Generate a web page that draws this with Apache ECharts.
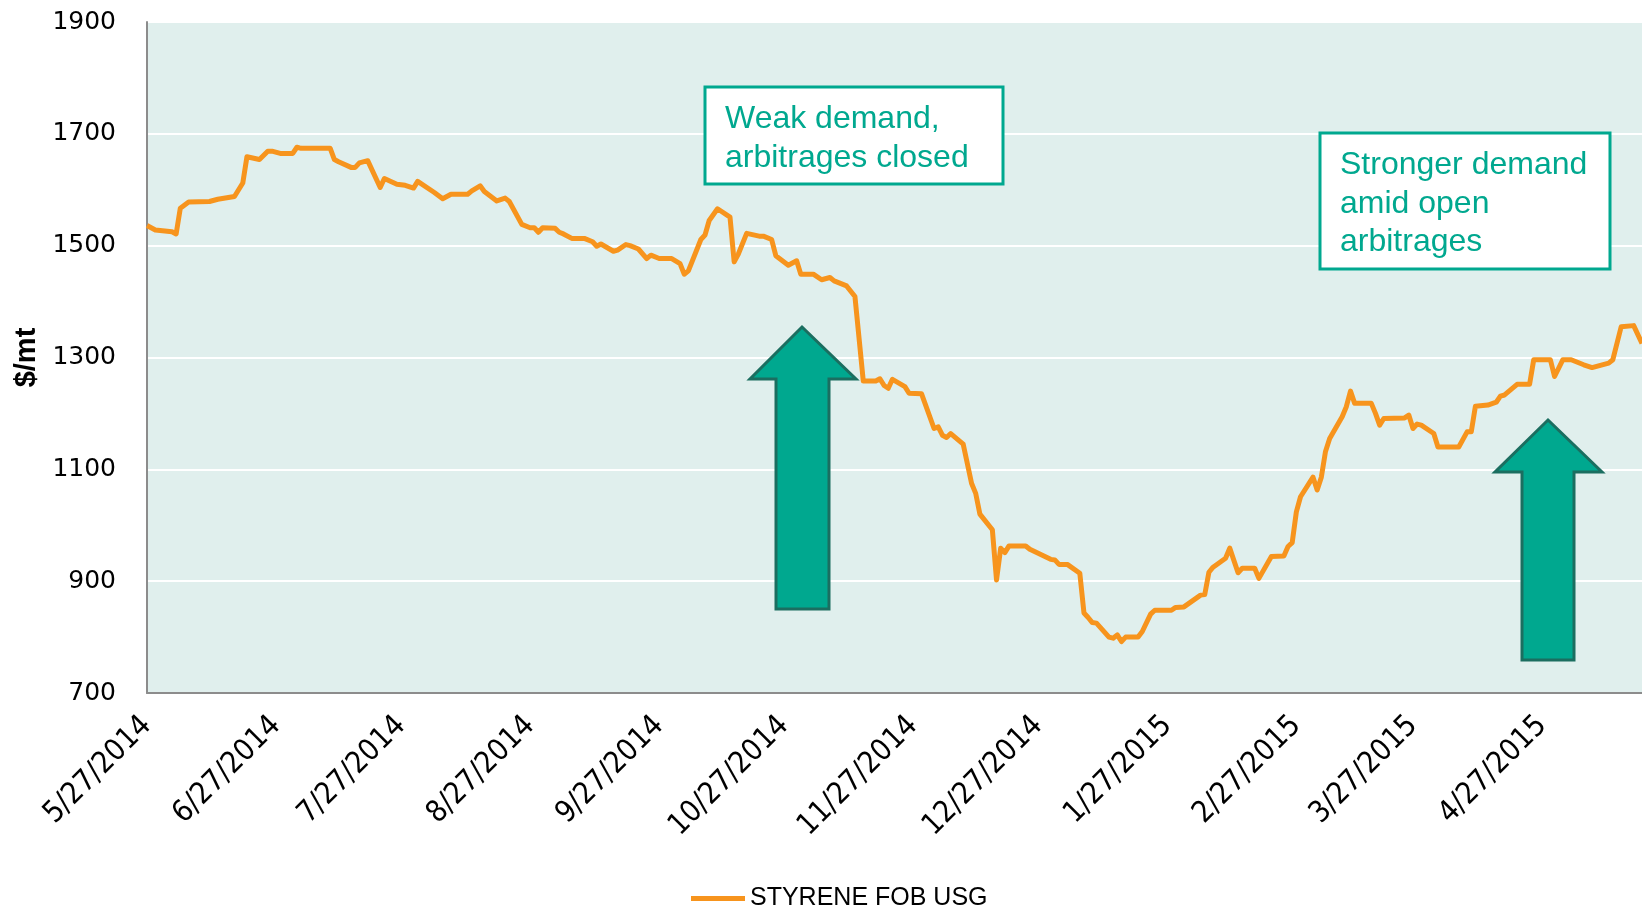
<!DOCTYPE html>
<html>
<head>
<meta charset="utf-8">
<script src="https://cdn.jsdelivr.net/npm/echarts@6/dist/echarts.min.js"></script>
<style>
  html, body { margin: 0; padding: 0; background: #fff; }
  #chart { width: 1642px; height: 913px; }
</style>
</head>
<body>
<div id="chart"></div>
<script>
// ========================================
// 数据: STYRENE FOB USG ($/mt)
// ========================================
const seriesName = 'STYRENE FOB USG';

const dates = [
  '2014-05-27', '2014-05-29', '2014-06-02', '2014-06-03', '2014-06-04', '2014-06-06', '2014-06-11', '2014-06-13',
  '2014-06-17', '2014-06-19', '2014-06-20', '2014-06-23', '2014-06-25', '2014-06-26', '2014-06-28', '2014-07-01',
  '2014-07-02', '2014-07-03', '2014-07-10', '2014-07-11', '2014-07-12', '2014-07-15', '2014-07-16', '2014-07-17',
  '2014-07-19', '2014-07-22', '2014-07-23', '2014-07-26', '2014-07-28', '2014-07-30', '2014-07-31', '2014-08-04',
  '2014-08-06', '2014-08-08', '2014-08-12', '2014-08-13', '2014-08-15', '2014-08-16', '2014-08-19', '2014-08-21',
  '2014-08-22', '2014-08-25', '2014-08-27', '2014-08-28', '2014-08-29', '2014-08-30', '2014-09-02', '2014-09-03',
  '2014-09-04', '2014-09-06', '2014-09-09', '2014-09-11', '2014-09-12', '2014-09-13', '2014-09-16', '2014-09-17',
  '2014-09-19', '2014-09-20', '2014-09-22', '2014-09-24', '2014-09-25', '2014-09-27', '2014-09-30', '2014-10-02',
  '2014-10-03', '2014-10-04', '2014-10-07', '2014-10-08', '2014-10-09', '2014-10-11', '2014-10-14', '2014-10-15',
  '2014-10-16', '2014-10-18', '2014-10-21', '2014-10-22', '2014-10-24', '2014-10-25', '2014-10-28', '2014-10-30',
  '2014-10-31', '2014-11-03', '2014-11-05', '2014-11-07', '2014-11-08', '2014-11-11', '2014-11-13', '2014-11-15',
  '2014-11-18', '2014-11-19', '2014-11-20', '2014-11-21', '2014-11-22', '2014-11-25', '2014-11-26', '2014-11-29',
  '2014-12-02', '2014-12-03', '2014-12-04', '2014-12-05', '2014-12-06', '2014-12-09', '2014-12-11', '2014-12-12',
  '2014-12-13', '2014-12-16', '2014-12-17', '2014-12-18', '2014-12-19', '2014-12-20', '2014-12-24', '2014-12-25',
  '2014-12-30', '2014-12-31', '2015-01-01', '2015-01-03', '2015-01-06', '2015-01-07', '2015-01-08', '2015-01-09',
  '2015-01-10', '2015-01-13', '2015-01-14', '2015-01-15', '2015-01-16', '2015-01-17', '2015-01-20', '2015-01-21',
  '2015-01-23', '2015-01-24', '2015-01-28', '2015-01-29', '2015-01-31', '2015-02-04', '2015-02-05', '2015-02-06',
  '2015-02-07', '2015-02-10', '2015-02-11', '2015-02-13', '2015-02-14', '2015-02-17', '2015-02-18', '2015-02-21',
  '2015-02-24', '2015-02-25', '2015-02-26', '2015-02-27', '2015-02-28', '2015-03-03', '2015-03-04', '2015-03-05',
  '2015-03-06', '2015-03-07', '2015-03-10', '2015-03-11', '2015-03-12', '2015-03-13', '2015-03-17', '2015-03-18',
  '2015-03-19', '2015-03-20', '2015-03-25', '2015-03-26', '2015-03-27', '2015-03-28', '2015-03-29', '2015-04-01',
  '2015-04-02', '2015-04-07', '2015-04-09', '2015-04-10', '2015-04-11', '2015-04-14', '2015-04-16', '2015-04-17',
  '2015-04-18', '2015-04-21', '2015-04-24', '2015-04-25', '2015-04-29', '2015-04-30', '2015-05-02', '2015-05-04',
  '2015-05-07', '2015-05-09', '2015-05-13', '2015-05-14', '2015-05-16', '2015-05-19', '2015-05-21'
];

const prices = [
  1536, 1528, 1525, 1521, 1567, 1578, 1579, 1583,
  1588, 1612, 1659, 1654, 1669, 1669, 1665, 1665,
  1676, 1674, 1674, 1654, 1650, 1640, 1640, 1648,
  1652, 1604, 1620, 1610, 1608, 1603, 1615, 1595,
  1584, 1592, 1592, 1598, 1607, 1597, 1580, 1585,
  1579, 1538, 1532, 1532, 1524, 1532, 1531, 1524,
  1521, 1513, 1513, 1507, 1499, 1503, 1490, 1492,
  1502, 1500, 1494, 1477, 1483, 1477, 1477, 1468,
  1449, 1455, 1511, 1519, 1545, 1566, 1551, 1471,
  1485, 1522, 1517, 1517, 1511, 1482, 1465, 1473,
  1449, 1449, 1439, 1443, 1437, 1428, 1409, 1258,
  1258, 1262, 1250, 1245, 1261, 1248, 1236, 1235,
  1173, 1176, 1161, 1157, 1164, 1145, 1075, 1057,
  1020, 992, 902, 959, 951, 963, 963, 957,
  939, 938, 930, 930, 914, 843, 835, 826,
  825, 800, 798, 804, 792, 800, 800, 810,
  841, 848, 848, 853, 854, 875, 876, 916,
  925, 941, 959, 915, 923, 923, 905, 944,
  945, 962, 969, 1024, 1051, 1086, 1063, 1086,
  1132, 1155, 1194, 1212, 1240, 1218, 1218, 1200,
  1179, 1191, 1192, 1197, 1173, 1181, 1179, 1164,
  1140, 1140, 1167, 1167, 1213, 1215, 1220, 1231,
  1233, 1252, 1252, 1296, 1296, 1266, 1296, 1296,
  1287, 1282, 1290, 1296, 1355, 1357, 1325
];

// x 轴刻度 (每月 27 日)
const tickDates = [
  '2014-05-27', '2014-06-27', '2014-07-27', '2014-08-27', '2014-09-27', '2014-10-27',
  '2014-11-27', '2014-12-27', '2015-01-27', '2015-02-27', '2015-03-27', '2015-04-27'
];

// y 轴
const yMin = 700;
const yMax = 1900;
const yStep = 200;

// 注释文字
const noteWeak = ['Weak demand,', 'arbitrages closed'];
const noteStrong = ['Stronger demand', 'amid open', 'arbitrages'];

// ========================================
// 工具函数
// ========================================
function toTime(s) {
  const p = s.split('-');
  return new Date(+p[0], +p[1] - 1, +p[2]).getTime();
}

function fmtDate(v) {
  const d = new Date(v);
  return (d.getMonth() + 1) + '/' + d.getDate() + '/' + d.getFullYear();
}

const ORANGE = '#f7941d';
const TEAL = '#00a88f';
const TEAL_DARK = '#1b6e60';

function arrow(tipX, tipY, baseY, headL, headR, shaftL, shaftR, bottom) {
  return {
    type: 'polygon',
    z: 100,
    shape: {
      points: [
        [tipX, tipY], [headR, baseY], [shaftR, baseY], [shaftR, bottom],
        [shaftL, bottom], [shaftL, baseY], [headL, baseY]
      ]
    },
    style: { fill: TEAL, stroke: TEAL_DARK, lineWidth: 3 }
  };
}

// 注释框: 返回矩形和文字两个元素
function noteBox(x, y, w, h, lines) {
  return [
    {
      type: 'rect',
      z: 100,
      shape: { x: x, y: y, width: w, height: h },
      style: { fill: '#ffffff', stroke: TEAL, lineWidth: 3 }
    },
    {
      type: 'text',
      z: 101,
      x: x + 20,
      y: y + 13,
      style: {
        text: lines.join('\n'),
        font: '32px "Liberation Sans", Arial, sans-serif',
        fill: TEAL,
        lineHeight: 38.5,
        verticalAlign: 'top'
      }
    }
  ];
}

// ========================================
// 图表
// ========================================
const chart = echarts.init(document.getElementById('chart'));
const tickTimes = tickDates.map(toTime);

const option = {
  animation: false,
  backgroundColor: '#ffffff',
  grid: {
    left: 147,
    right: 0,
    top: 22,
    bottom: 220,
    show: true,
    backgroundColor: '#e0efed',
    borderWidth: 0
  },
  legend: {
    top: 881,
    left: 686,
    data: [seriesName],
    itemWidth: 54,
    itemHeight: 5,
    textStyle: {
      fontFamily: '"Liberation Sans Narrow", "Liberation Sans", Arial, sans-serif',
      fontSize: 25,
      color: '#000'
    },
    icon: 'rect'
  },
  xAxis: {
    type: 'value',
    min: toTime('2014-05-27'),
    max: toTime('2015-05-21'),
    axisLine: { show: true, lineStyle: { color: '#8c8c8c', width: 2 } },
    axisTick: { show: false, customValues: tickTimes },
    splitLine: { show: false },
    axisLabel: {
      customValues: tickTimes,
      formatter: fmtDate,
      rotate: 45,
      margin: 28,
      padding: [22, 0, 0, 0],
      fontFamily: '"DejaVu Sans Condensed", "DejaVu Sans", sans-serif',
      fontSize: 30,
      color: '#000',
      hideOverlap: false
    }
  },
  yAxis: {
    type: 'value',
    min: yMin,
    max: yMax,
    interval: yStep,
    name: '$/mt',
    nameLocation: 'middle',
    nameGap: 106,
    nameRotate: 90,
    nameTextStyle: {
      fontFamily: '"Liberation Sans", Arial, sans-serif',
      fontWeight: 'bold',
      fontSize: 29,
      color: '#000'
    },
    axisLine: { show: true, lineStyle: { color: '#8c8c8c', width: 2 } },
    axisTick: { show: false },
    splitLine: { show: true, lineStyle: { color: '#ffffff', width: 2 } },
    axisLabel: {
      margin: 31,
      formatter: function(v) { return String(v); },
      fontFamily: '"DejaVu Sans", Verdana, sans-serif',
      fontSize: 25,
      color: '#000'
    }
  },
  series: [{
    name: seriesName,
    type: 'line',
    data: dates.map((d, i) => [toTime(d), prices[i]]),
    showSymbol: false,
    symbol: 'none',
    lineStyle: { color: ORANGE, width: 5, join: 'round' },
    itemStyle: { color: ORANGE },
    z: 5
  }],
  graphic: [].concat(
    noteBox(705, 87, 298, 97, noteWeak),
    noteBox(1320, 133, 290, 136, noteStrong),
    [
      arrow(802, 327, 379, 750, 856, 776, 829, 609),
      arrow(1548, 420, 472, 1495, 1602, 1522, 1574, 660)
    ]
  )
};

chart.setOption(option);
</script>
</body>
</html>
